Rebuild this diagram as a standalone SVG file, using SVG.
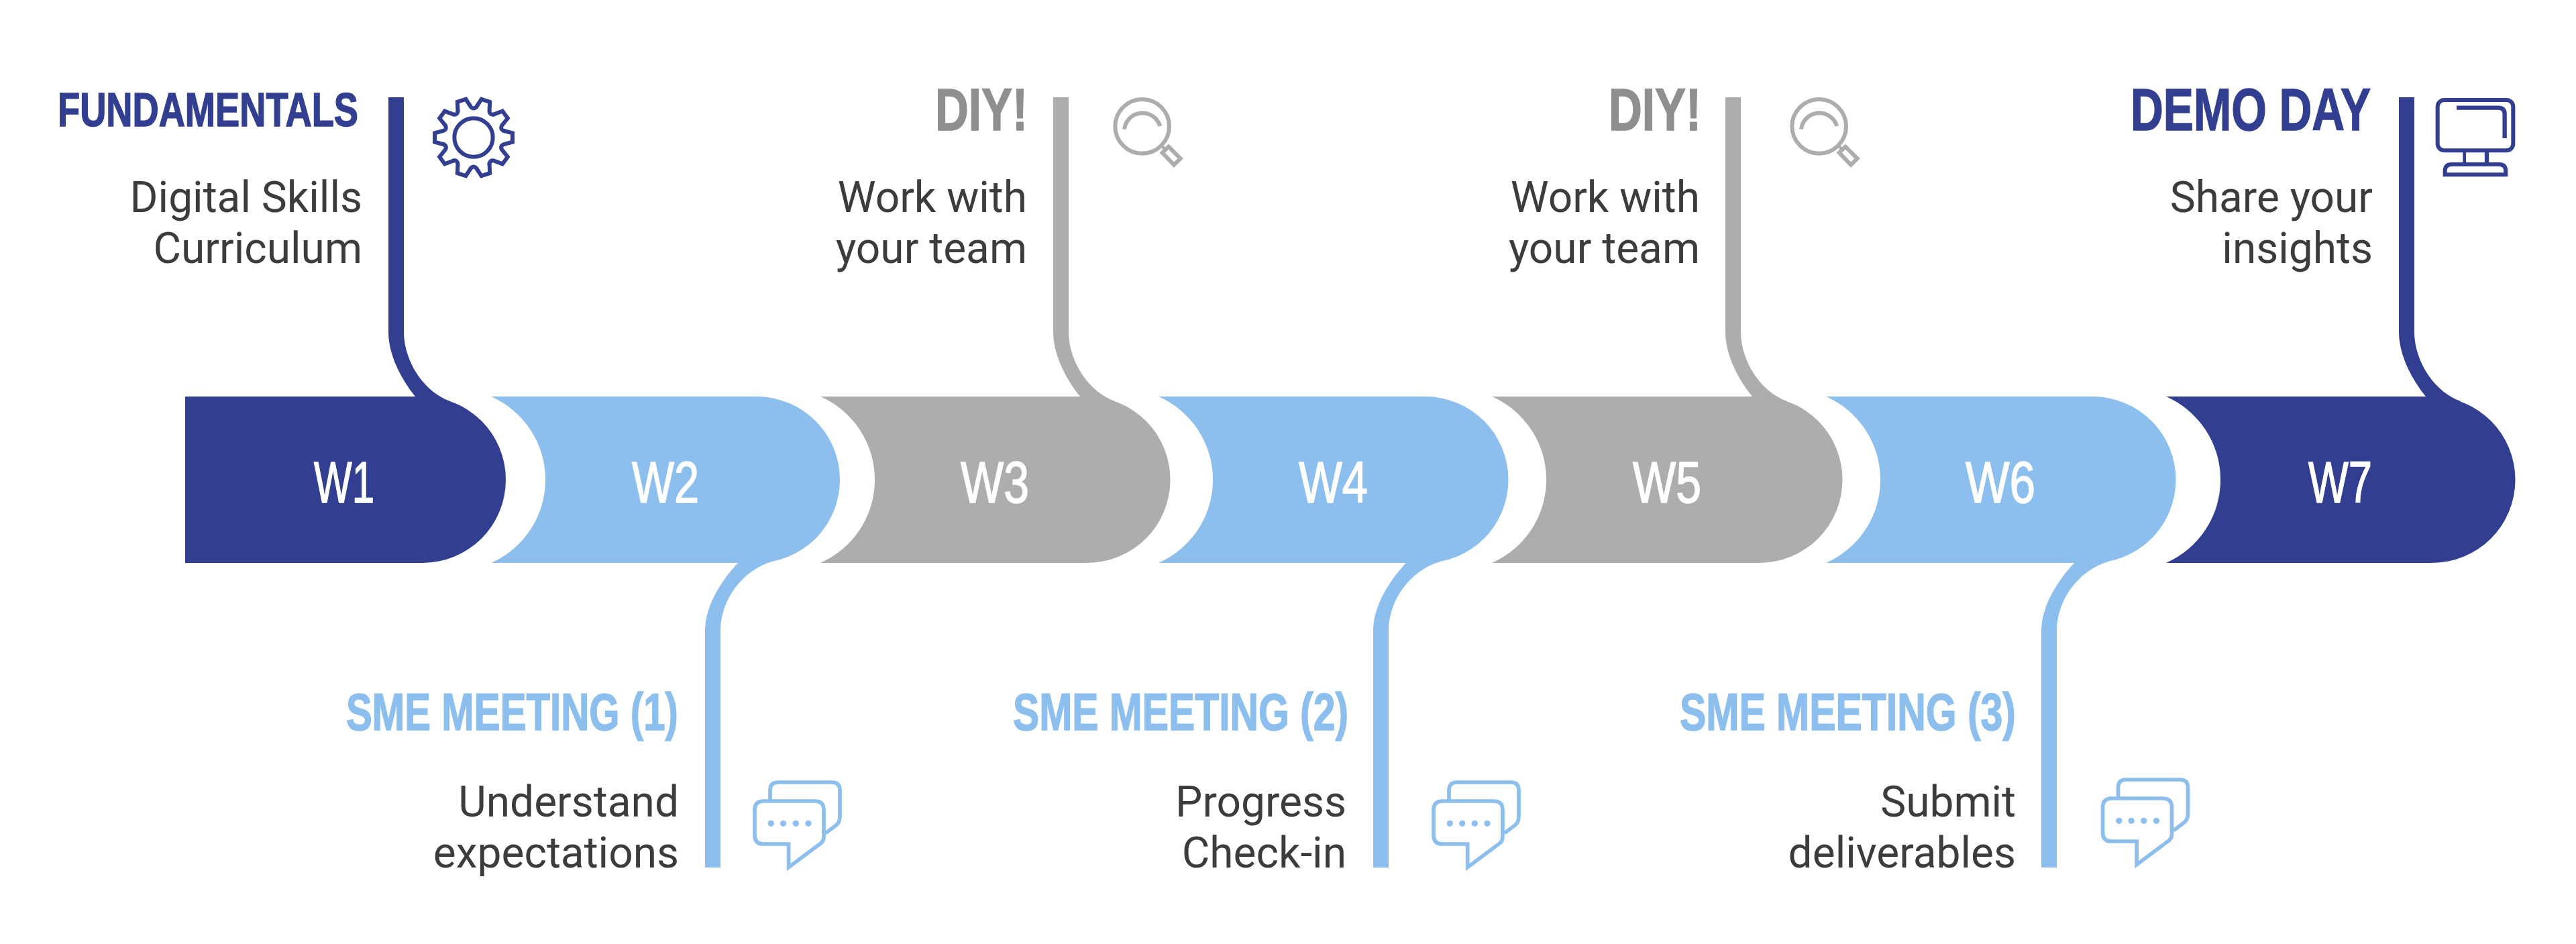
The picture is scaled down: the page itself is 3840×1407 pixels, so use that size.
<svg xmlns="http://www.w3.org/2000/svg" xmlns:xlink="http://www.w3.org/1999/xlink" width="3840" height="1407" viewBox="0 0 3840 1407">
<style>
.navy{fill:#323f90}.sky{fill:#8cbfee}.gray{fill:#adadad}
.w{font-family:"Liberation Sans Narrow","Liberation Sans",sans-serif;font-size:88px;fill:#fff;stroke:#fff;stroke-width:1.6px}
.h{font-family:"Liberation Sans Narrow","Liberation Sans",sans-serif;font-weight:700;stroke-width:1.5px}
.dg{fill:#8f8f8f;stroke:#8f8f8f}
.h.navy{stroke:#323f90}.h.sky{stroke:#8cbfee}
.h1{font-size:89px}.h2{font-size:70px}.h3{font-size:77px}
.b{font-family:Roboto,"Liberation Sans",sans-serif;font-size:64px;fill:#3c3c3c;text-anchor:end}
.ic{fill:none;stroke-width:18;stroke-linejoin:miter}
.sn{stroke:#323f90}.ss{stroke:#8cbfee}.sg{stroke:#adadad}
</style>
<defs>
<path id="ctop" d="M0,145H23V495C23,535 50,583 92,598L92,610L40,610L40,591C15,560 0,525 0,495Z"/>
<path id="cbot" d="M0,1293V940C0,905 22,868 49,839L49,825L100,825L100,837C55,850 23,895 23,940V1293Z"/>
<g id="chat" class="ic ss">
<path stroke-width="17" d="M144,155V110Q144,75 180,75H420Q456,75 456,110V230Q456,255 435,270L392,302"/>
<path stroke-width="17" d="M115,159H344Q384,159 384,199V320Q384,340 365,352L227,455V351H115Q75,351 75,311V199Q75,159 115,159Z"/>
<g fill="#8cbfee" stroke="none"><circle cx="148" cy="259" r="14"/><circle cx="203" cy="259" r="14"/><circle cx="259" cy="259" r="14"/><circle cx="315" cy="259" r="14"/></g>
</g>
<g id="mag" class="ic sg">
<circle cx="248" cy="205" r="121"/>
<path d="M168,218A82,82 0 0 1 328,204"/>
<path stroke-width="13" d="M335,292L352,310"/>
<path d="M366,296L419,349L390,377L338,323Z"/>
</g>
<path id="tooth" d="M133.5,-30.8L173.9,-19.8L173.9,19.8L133.5,30.8Q117.9,38.3 126.1,53.5"/>
</defs>
<g id="nodes">
<g id="W1"><path class="navy" d="M276,591H630A124,124 0 0 1 630,839H276Z"/><text class="w" x="468" y="749" textLength="90" lengthAdjust="spacingAndGlyphs">W1</text></g>
<g id="W2"><path class="sky" d="M732,591H1128A124,124 0 0 1 1128,839H732A135.4,135.4 0 0 0 732,591Z"/><text class="w" x="942" y="749" textLength="100" lengthAdjust="spacingAndGlyphs">W2</text></g>
<g id="W3"><path class="gray" d="M1223,591H1620.5A124,124 0 0 1 1620.5,839H1223A135.4,135.4 0 0 0 1223,591Z"/><text class="w" x="1432" y="749" textLength="102" lengthAdjust="spacingAndGlyphs">W3</text></g>
<g id="W4"><path class="sky" d="M1727,591H2124.5A124,124 0 0 1 2124.5,839H1727A135.4,135.4 0 0 0 1727,591Z"/><text class="w" x="1936" y="749" textLength="103" lengthAdjust="spacingAndGlyphs">W4</text></g>
<g id="W5"><path class="gray" d="M2224,591H2622.5A124,124 0 0 1 2622.5,839H2224A135.4,135.4 0 0 0 2224,591Z"/><text class="w" x="2434" y="749" textLength="102" lengthAdjust="spacingAndGlyphs">W5</text></g>
<g id="W6"><path class="sky" d="M2722,591H3119.5A124,124 0 0 1 3119.5,839H2722A135.4,135.4 0 0 0 2722,591Z"/><text class="w" x="2930" y="749" textLength="104" lengthAdjust="spacingAndGlyphs">W6</text></g>
<g id="W7"><path class="navy" d="M3229,591H3625.5A124,124 0 0 1 3625.5,839H3229A135.4,135.4 0 0 0 3229,591Z"/><text class="w" x="3441" y="749" textLength="95" lengthAdjust="spacingAndGlyphs">W7</text></g>
</g>
<g id="connectors">
<use href="#ctop" class="navy" x="579"/>
<use href="#ctop" class="gray" x="1570"/>
<use href="#ctop" class="gray" x="2572"/>
<use href="#ctop" class="navy" x="3576"/>
<use href="#cbot" class="sky" x="1051"/>
<use href="#cbot" class="sky" x="2047"/>
<use href="#cbot" class="sky" x="3043"/>
</g>
<g id="label-fundamentals">
<text class="h h2 navy" x="86" y="188" textLength="448" lengthAdjust="spacingAndGlyphs">FUNDAMENTALS</text>
<text class="b" x="540" y="316">Digital Skills</text><text class="b" x="540" y="392">Curriculum</text>
<g id="icon-gear" transform="translate(706,205) scale(.3333)" fill="none" stroke="#323f90" stroke-width="18" stroke-linecap="round" stroke-linejoin="miter">
<circle r="86"/>
<use href="#tooth"/><use href="#tooth" transform="rotate(36)"/><use href="#tooth" transform="rotate(72)"/><use href="#tooth" transform="rotate(108)"/><use href="#tooth" transform="rotate(144)"/><use href="#tooth" transform="rotate(180)"/><use href="#tooth" transform="rotate(216)"/><use href="#tooth" transform="rotate(252)"/><use href="#tooth" transform="rotate(288)"/><use href="#tooth" transform="rotate(324)"/>
</g>
</g>
<g id="label-diy-1">
<text class="h h1 dg" x="1394" y="194" textLength="138" lengthAdjust="spacingAndGlyphs">DIY!</text>
<text class="b" x="1531" y="316">Work with</text><text class="b" x="1531" y="392">your team</text>
<use href="#mag" transform="translate(1620,120) scale(.3333)"/>
</g>
<g id="label-diy-2">
<text class="h h1 dg" x="2398" y="194" textLength="138" lengthAdjust="spacingAndGlyphs">DIY!</text>
<text class="b" x="2534" y="316">Work with</text><text class="b" x="2534" y="392">your team</text>
<use href="#mag" transform="translate(2629,120) scale(.3333)"/>
</g>
<g id="label-demo-day">
<text class="h h1 navy" x="3176" y="194" textLength="358" lengthAdjust="spacingAndGlyphs">DEMO DAY</text>
<text class="b" x="3537" y="316">Share your</text><text class="b" x="3537" y="392">insights</text>
<g id="icon-monitor" transform="translate(3600,120) scale(.3333)" fill="none" stroke="#323f90" stroke-width="18">
<rect x="101" y="87" width="338" height="226" rx="30"/>
<path stroke-width="19" d="M186,122H372Q401,122 401,150V258"/>
<path stroke-width="14" d="M221,313V375"/><path stroke-width="19" d="M321,313V375"/>
<path d="M134,421V405Q134,375 164,375H376Q406,375 406,405V421Z"/>
</g>
</g>
<g id="label-sme-1">
<text class="h h3 sky" x="516" y="1088" textLength="495" lengthAdjust="spacingAndGlyphs">SME MEETING (1)</text>
<text class="b" x="1012" y="1216.5">Understand</text><text class="b" x="1012" y="1292.5">expectations</text>
<use href="#chat" transform="translate(1100,1141) scale(.3333)"/>
</g>
<g id="label-sme-2">
<text class="h h3 sky" x="1510" y="1088" textLength="500" lengthAdjust="spacingAndGlyphs">SME MEETING (2)</text>
<text class="b" x="2007" y="1216.5">Progress</text><text class="b" x="2007" y="1292.5">Check-in</text>
<use href="#chat" transform="translate(2112,1141) scale(.3333)"/>
</g>
<g id="label-sme-3">
<text class="h h3 sky" x="2504" y="1088" textLength="501" lengthAdjust="spacingAndGlyphs">SME MEETING (3)</text>
<text class="b" x="3005" y="1216.5">Submit</text><text class="b" x="3005" y="1292.5">deliverables</text>
<use href="#chat" transform="translate(3109.5,1137) scale(.3333)"/>
</g>
</svg>
